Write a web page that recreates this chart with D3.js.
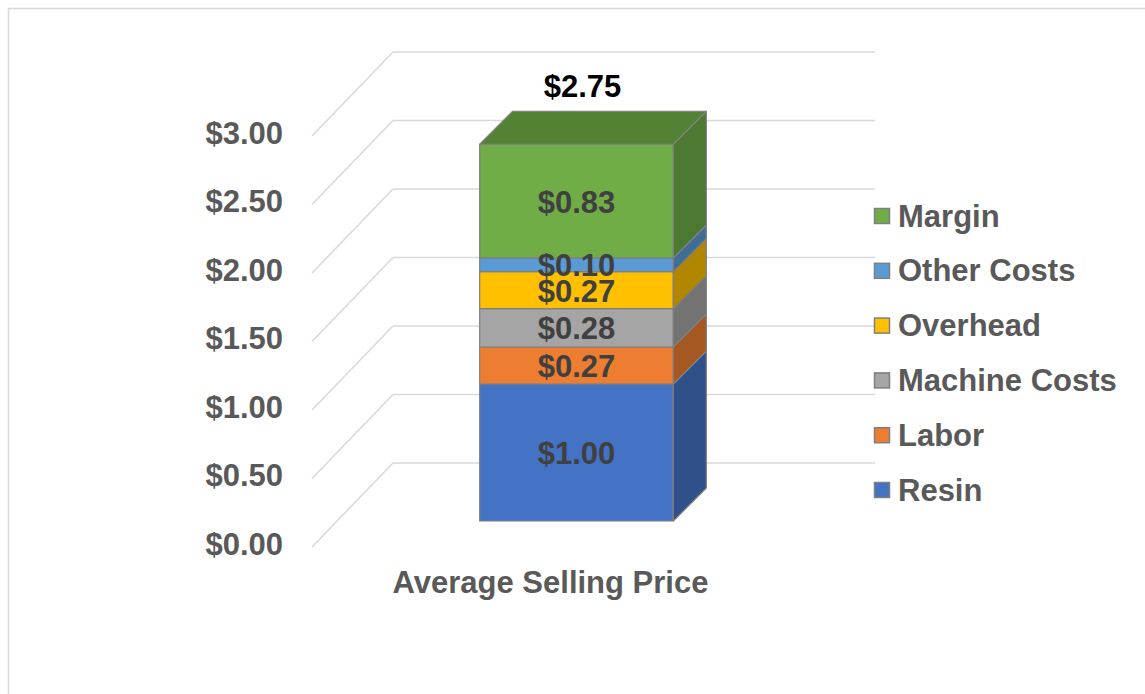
<!DOCTYPE html>
<html>
<head>
<meta charset="utf-8">
<script src="https://cdn.jsdelivr.net/npm/d3@7"></script>
<style>
  body { margin: 0; background: #fff; }
  text { font-family: "Liberation Sans", Arial, sans-serif; font-weight: bold; }
</style>
</head>
<body>
<script>
var categories = ["Average Selling Price"];
var seriesNames = ["Resin", "Labor", "Machine Costs", "Overhead", "Other Costs", "Margin"];
var seriesValues = [1.00, 0.27, 0.28, 0.27, 0.10, 0.83];
var seriesColors = ["#4472C4", "#ED7D31", "#A5A5A5", "#FFC000", "#5B9BD5", "#70AD47"];
var tickValues = [0, 0.5, 1, 1.5, 2, 2.5, 3];

var svg = d3.select("body")
    .append("svg")
    .attr("width", 1145)
    .attr("height", 694)
    .style("display", "block");

// chart area border
svg.append("rect")
    .attr("x", 8.5).attr("y", 8.5)
    .attr("width", 1200).attr("height", 800)
    .attr("fill", "#fff")
    .attr("stroke", "#d9d9d9")
    .attr("stroke-width", 1.5);

// front plane of the value axis
var y = d3.scaleLinear().domain([0, 3]).range([547, 136]);
var wallDx = 81, wallDy = -84;      // front -> back wall
var barDy = -26;                    // bar front face sits a bit back
var depthDx = 33, depthDy = -33;    // bar depth
var xFront = 312;
var xWallRight = 875;

var x = d3.scaleBand()
    .domain(categories)
    .range([383, 770])
    .padding(0.333);

var fmt = function (v) { return "$" + d3.format(".2f")(v); };

// gridlines: side wall diagonals + back wall horizontals
var grid = svg.append("g").attr("stroke", "#d9d9d9").attr("stroke-width", 1.5).attr("fill", "none");
grid.selectAll(".diag")
    .data(tickValues)
    .enter()
    .append("line")
    .attr("x1", xFront)
    .attr("y1", function (d) { return y(d); })
    .attr("x2", xFront + wallDx)
    .attr("y2", function (d) { return y(d) + wallDy; });
grid.selectAll(".back")
    .data(tickValues)
    .enter()
    .append("line")
    .attr("x1", xFront + wallDx)
    .attr("y1", function (d) { return y(d) + wallDy; })
    .attr("x2", xWallRight)
    .attr("y2", function (d) { return y(d) + wallDy; });

// value axis labels
svg.append("g").selectAll("text")
    .data(tickValues)
    .enter()
    .append("text")
    .attr("x", 283)
    .attr("y", function (d) { return y(d) - 3; })
    .attr("text-anchor", "end")
    .attr("dominant-baseline", "central")
    .attr("font-size", 31)
    .attr("fill", "#595959")
    .text(fmt);

// stacked data
var row = { category: categories[0] };
seriesNames.forEach(function (s, i) { row[s] = seriesValues[i]; });
var stacked = d3.stack().keys(seriesNames)([row]);
var color = d3.scaleOrdinal().domain(seriesNames).range(seriesColors);

var yb = function (v) { return y(v) + barDy; };
var bx0 = x(categories[0]);
var bx1 = bx0 + x.bandwidth();

var bar = svg.append("g").attr("stroke", "#7f7f7f").attr("stroke-width", 1.2).attr("stroke-linejoin", "round");

// front faces
bar.selectAll(".front")
    .data(stacked)
    .enter()
    .append("rect")
    .attr("x", bx0)
    .attr("y", function (d) { return yb(d[0][1]); })
    .attr("width", x.bandwidth())
    .attr("height", function (d) { return yb(d[0][0]) - yb(d[0][1]); })
    .attr("fill", function (d) { return color(d.key); });

// side faces
bar.selectAll(".side")
    .data(stacked)
    .enter()
    .append("polygon")
    .attr("points", function (d) {
        var a = yb(d[0][0]), b = yb(d[0][1]);
        return [[bx1, a], [bx1 + depthDx, a + depthDy], [bx1 + depthDx, b + depthDy], [bx1, b]].join(" ");
    })
    .attr("fill", function (d) { return d3.color(color(d.key)).darker(1); });

// top face
var topSeries = stacked[stacked.length - 1];
var topY = yb(topSeries[0][1]);
bar.append("polygon")
    .attr("points", [[bx0, topY], [bx0 + depthDx, topY + depthDy], [bx1 + depthDx, topY + depthDy], [bx1, topY]].join(" "))
    .attr("fill", d3.color(color(topSeries.key)).darker(0.8));

// segment labels
svg.append("g").selectAll("text")
    .data(stacked)
    .enter()
    .append("text")
    .attr("x", (bx0 + bx1) / 2)
    .attr("y", function (d) { return (yb(d[0][0]) + yb(d[0][1])) / 2 + 1; })
    .attr("text-anchor", "middle")
    .attr("dominant-baseline", "central")
    .attr("font-size", 31)
    .attr("fill", "#404040")
    .text(function (d) { return fmt(d[0][1] - d[0][0]); });

// total label
svg.append("text")
    .attr("x", (bx0 + bx1) / 2 + 6)
    .attr("y", 86)
    .attr("text-anchor", "middle")
    .attr("dominant-baseline", "central")
    .attr("font-size", 31)
    .attr("fill", "#000")
    .text(fmt(d3.sum(seriesValues)));

// category label
svg.append("text")
    .attr("x", (bx0 + bx1) / 2 - 26)
    .attr("y", 582)
    .attr("text-anchor", "middle")
    .attr("dominant-baseline", "central")
    .attr("font-size", 31)
    .attr("fill", "#595959")
    .text(categories[0]);

// legend (top = last series)
var legendY = d3.scalePoint()
    .domain(seriesNames.slice().reverse())
    .range([216, 490]);

var legend = svg.append("g").selectAll("g")
    .data(seriesNames)
    .enter()
    .append("g")
    .attr("transform", function (d) { return "translate(874," + legendY(d) + ")"; });

legend.append("rect")
    .attr("x", 0.5).attr("y", -7.5)
    .attr("width", 15).attr("height", 15)
    .attr("fill", function (d) { return color(d); })
    .attr("stroke", "#7f7f7f")
    .attr("stroke-width", 1.5);

legend.append("text")
    .attr("x", 24)
    .attr("y", 0)
    .attr("dominant-baseline", "central")
    .attr("font-size", 31)
    .attr("fill", "#595959")
    .text(function (d) { return d; });
</script>
</body>
</html>
